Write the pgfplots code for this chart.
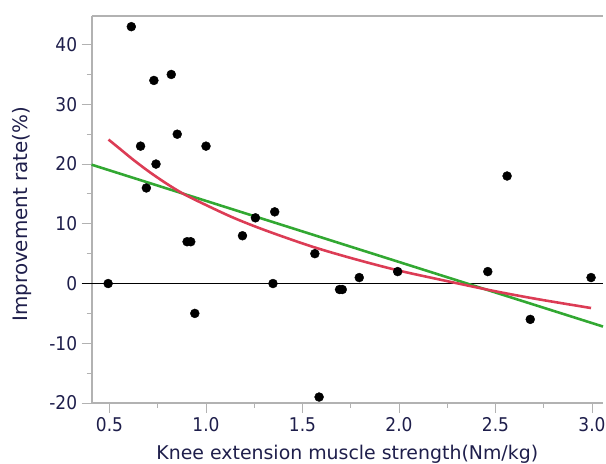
\documentclass[border=0pt]{standalone}
\usepackage{pgfplots}
\pgfplotsset{compat=1.18}
\usepackage{fontspec}
\setmainfont{DejaVu Sans}[FakeStretch=0.9]
\newfontfamily\labfont{DejaVu Sans}
\definecolor{fitred}{RGB}{220,60,85}
\definecolor{fitgreen}{RGB}{50,168,50}
\definecolor{axgray}{RGB}{178,178,178}
\definecolor{txt}{RGB}{30,30,75}

\begin{document}
\begin{tikzpicture}
\useasboundingbox (-92pt,-61pt) rectangle (517pt,405pt);
\begin{axis}[
  scale only axis,
  width=514pt, height=389pt,
  xmin=0.407, xmax=3.057,
  ymin=-20, ymax=44.8,
  axis lines=left,
  axis line style={-, draw=axgray, line width=2pt},
  tick align=outside,
  major tick length=10pt, minor tick length=5pt,
  tick style={axgray, line width=1pt},
  xtick={0.5,1.0,1.5,2.0,2.5,3.0},
  ytick={-20,-10,0,10,20,30,40},
  minor x tick num=1, minor y tick num=1,
  xticklabel style={/pgf/number format/fixed, /pgf/number format/fixed zerofill,
    /pgf/number format/precision=1, yshift=-1pt},
  /pgf/number format/assume math mode=true,
  tick label style={font=\fontsize{19}{21}\selectfont, text=txt},
  yticklabel style={xshift=-1pt},
  extra y ticks={0}, extra y tick labels={},
  extra y tick style={grid=major, grid style={black, line width=1.3pt},
    tick style={black, line width=1.3pt}},
  xlabel={Knee extension muscle strength(Nm/kg)},
  ylabel={Improvement rate(\%)},
  xlabel style={font=\labfont\fontsize{19}{21}\selectfont, text=txt,
    at={(axis description cs:0.5,0)}, anchor=base, yshift=-57pt},
  ylabel style={font=\labfont\fontsize{20}{22}\selectfont, text=txt,
    at={(axis description cs:0,0.488)}, anchor=base, yshift=64pt},
  clip=false,
]
\addplot[only marks, mark=*, mark size=4.5pt, black] coordinates {
  (0.493,0) (0.613,43) (0.661,23) (0.691,16) (0.730,34) (0.741,20)
  (0.820,35) (0.851,25) (0.902,7) (0.921,7) (0.942,-5) (1.000,23)
  (1.189,8) (1.256,11) (1.347,0) (1.356,12) (1.564,5) (1.586,-19)
  (1.692,-1) (1.706,-1) (1.794,1) (1.993,2) (2.460,2) (2.560,18)
  (2.680,-6) (2.995,1)
};
\addplot[fitgreen, line width=2.6pt] coordinates {(0.407,19.9) (3.057,-7.2)};
\addplot[fitred, line width=2.6pt, smooth] coordinates {
  (0.495,24.1) (0.552,22.6) (0.620,20.8) (0.706,18.7) (0.792,16.8)
  (0.878,15.1) (0.964,13.7) (1.136,11.1) (1.308,8.9) (1.548,6.2)
  (1.770,4.1) (1.995,2.2) (2.235,0.5) (2.500,-1.3) (2.716,-2.6) (2.995,-4.1)
};
\draw[axgray, line width=2pt] (rel axis cs:0,1) -- (rel axis cs:1,1);
\end{axis}
\end{tikzpicture}
\end{document}
